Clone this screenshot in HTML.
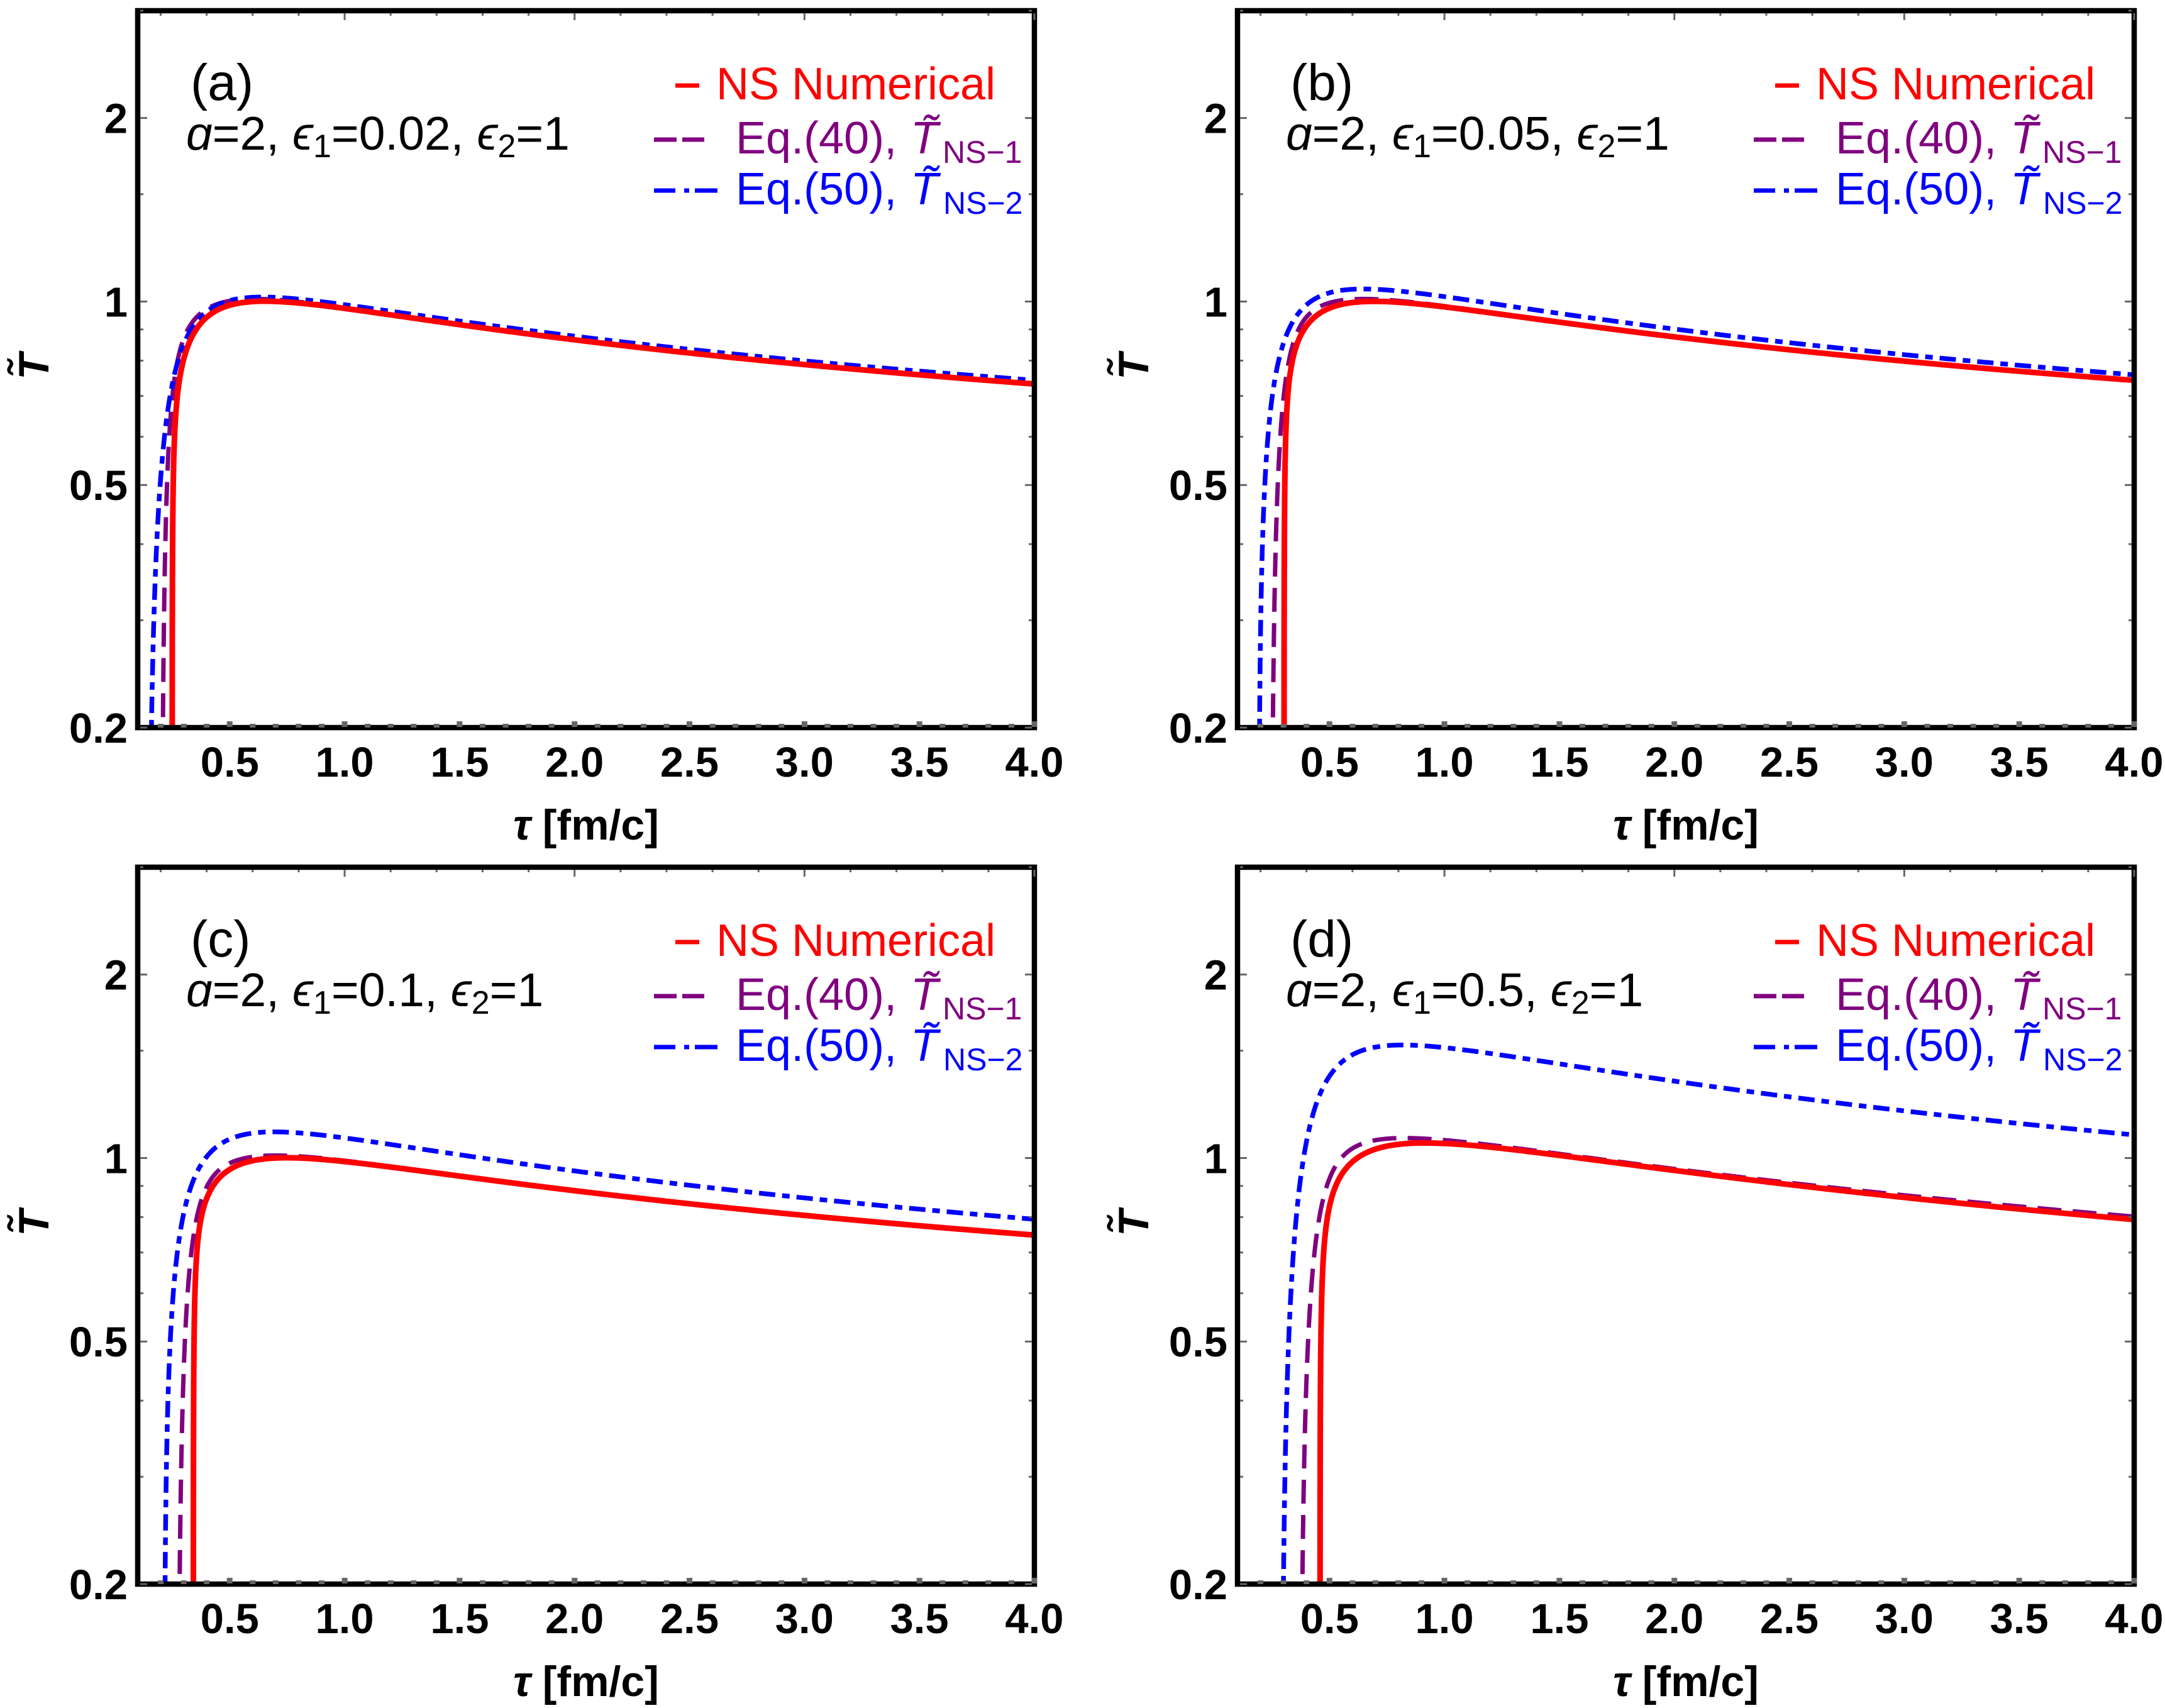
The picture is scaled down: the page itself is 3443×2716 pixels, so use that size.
<!DOCTYPE html>
<html>
<head>
<meta charset="utf-8">
<style>
html,body{margin:0;padding:0;background:#fff;width:3443px;height:2716px;overflow:hidden;}
svg{display:block;}
</style>
</head>
<body>
<svg id="s" width="3443" height="2716" viewBox="0 0 3443 2716" xmlns="http://www.w3.org/2000/svg">
<rect x="0" y="0" width="3443" height="2716" fill="#fff"/>
<defs>
<clipPath id="cp0"><rect x="219" y="17" width="1426" height="1140"/></clipPath>
<clipPath id="cp1"><rect x="1968" y="17" width="1426" height="1140"/></clipPath>
<clipPath id="cp2"><rect x="219" y="1379" width="1426" height="1140"/></clipPath>
<clipPath id="cp3"><rect x="1968" y="1379" width="1426" height="1140"/></clipPath>
</defs>
<g id="plots"></g>
<g id="frames" fill="none" stroke="#000" stroke-width="8.5">
<rect x="219" y="17" width="1426" height="1140"/>
<rect x="1968" y="17" width="1426" height="1140"/>
<rect x="219" y="1379" width="1426" height="1140"/>
<rect x="1968" y="1379" width="1426" height="1140"/>
</g>
<g id="ticks"></g>

<g font-family="'Liberation Sans','DejaVu Sans',sans-serif">

<!-- ================= Panel (a) ================= -->
<g>
<text x="303" y="159" font-size="82">(a)</text>
<text x="296" y="238" font-size="75"><tspan font-style="italic">ɑ</tspan>=2, <tspan font-style="italic">ϵ</tspan><tspan font-size="52" dy="12">1</tspan><tspan dy="-12">=0.02, </tspan><tspan font-style="italic">ϵ</tspan><tspan font-size="52" dy="12">2</tspan><tspan dy="-12">=1</tspan></text>
<line x1="1074" y1="136" x2="1112" y2="136" stroke="#ff0000" stroke-width="7"/>
<text x="1139" y="158" font-size="72" fill="#ff0000">NS Numerical</text>
<line x1="1040" y1="222" x2="1076" y2="222" stroke="#800080" stroke-width="7"/>
<line x1="1085" y1="222" x2="1120" y2="222" stroke="#800080" stroke-width="7"/>
<text x="1170" y="244" font-size="72" fill="#800080">Eq.(40),</text>
<text x="1448" y="244" font-size="72" font-style="italic" fill="#800080">T</text>
<text x="1478" y="234" font-size="72" font-style="italic" text-anchor="middle" fill="#800080">˜</text>
<text x="1499" y="259" font-size="50" fill="#800080">NS−1</text>
<line x1="1040" y1="303" x2="1074" y2="303" stroke="#0000ff" stroke-width="7"/>
<line x1="1088" y1="303" x2="1096" y2="303" stroke="#0000ff" stroke-width="7"/>
<line x1="1105" y1="303" x2="1141" y2="303" stroke="#0000ff" stroke-width="7"/>
<text x="1170" y="325" font-size="72" fill="#0000ff">Eq.(50),</text>
<text x="1448" y="325" font-size="72" font-style="italic" fill="#0000ff">T</text>
<text x="1478" y="315" font-size="72" font-style="italic" text-anchor="middle" fill="#0000ff">˜</text>
<text x="1500" y="340" font-size="50" fill="#0000ff">NS−2</text>
<g font-weight="bold" font-size="67" text-anchor="end">
<text x="203" y="1181">0.2</text>
<text x="203" y="795">0.5</text>
<text x="203" y="503.5">1</text>
<text x="203" y="211.7">2</text>
</g>
<g font-weight="bold" font-size="67" text-anchor="middle">
<text x="365.3" y="1235">0.5</text>
<text x="548.1" y="1235">1.0</text>
<text x="730.9" y="1235">1.5</text>
<text x="913.7" y="1235">2.0</text>
<text x="1096.5" y="1235">2.5</text>
<text x="1279.3" y="1235">3.0</text>
<text x="1462.1" y="1235">3.5</text>
<text x="1645" y="1235">4.0</text>
</g>
<text x="932" y="1335" font-size="68" font-weight="bold" text-anchor="middle"><tspan font-style="italic">τ</tspan> [fm/c]</text>
<g transform="translate(77,583) rotate(-90)">
<text x="0" y="0" font-size="68" font-weight="bold" font-style="italic" text-anchor="middle">T</text>
<text x="-5" y="-17" font-size="68" font-weight="bold" font-style="italic" text-anchor="middle">˜</text>
</g>
</g>

<!-- ================= Panel (b) ================= -->
<g transform="translate(1749,0)">
<text x="303" y="159" font-size="82">(b)</text>
<text x="296" y="238" font-size="75"><tspan font-style="italic">ɑ</tspan>=2, <tspan font-style="italic">ϵ</tspan><tspan font-size="52" dy="12">1</tspan><tspan dy="-12">=0.05, </tspan><tspan font-style="italic">ϵ</tspan><tspan font-size="52" dy="12">2</tspan><tspan dy="-12">=1</tspan></text>
<line x1="1074" y1="136" x2="1112" y2="136" stroke="#ff0000" stroke-width="7"/>
<text x="1139" y="158" font-size="72" fill="#ff0000">NS Numerical</text>
<line x1="1040" y1="222" x2="1076" y2="222" stroke="#800080" stroke-width="7"/>
<line x1="1085" y1="222" x2="1120" y2="222" stroke="#800080" stroke-width="7"/>
<text x="1170" y="244" font-size="72" fill="#800080">Eq.(40),</text>
<text x="1448" y="244" font-size="72" font-style="italic" fill="#800080">T</text>
<text x="1478" y="234" font-size="72" font-style="italic" text-anchor="middle" fill="#800080">˜</text>
<text x="1499" y="259" font-size="50" fill="#800080">NS−1</text>
<line x1="1040" y1="303" x2="1074" y2="303" stroke="#0000ff" stroke-width="7"/>
<line x1="1088" y1="303" x2="1096" y2="303" stroke="#0000ff" stroke-width="7"/>
<line x1="1105" y1="303" x2="1141" y2="303" stroke="#0000ff" stroke-width="7"/>
<text x="1170" y="325" font-size="72" fill="#0000ff">Eq.(50),</text>
<text x="1448" y="325" font-size="72" font-style="italic" fill="#0000ff">T</text>
<text x="1478" y="315" font-size="72" font-style="italic" text-anchor="middle" fill="#0000ff">˜</text>
<text x="1500" y="340" font-size="50" fill="#0000ff">NS−2</text>
<g font-weight="bold" font-size="67" text-anchor="end">
<text x="203" y="1181">0.2</text>
<text x="203" y="795">0.5</text>
<text x="203" y="503.5">1</text>
<text x="203" y="211.7">2</text>
</g>
<g font-weight="bold" font-size="67" text-anchor="middle">
<text x="365.3" y="1235">0.5</text>
<text x="548.1" y="1235">1.0</text>
<text x="730.9" y="1235">1.5</text>
<text x="913.7" y="1235">2.0</text>
<text x="1096.5" y="1235">2.5</text>
<text x="1279.3" y="1235">3.0</text>
<text x="1462.1" y="1235">3.5</text>
<text x="1645" y="1235">4.0</text>
</g>
<text x="932" y="1335" font-size="68" font-weight="bold" text-anchor="middle"><tspan font-style="italic">τ</tspan> [fm/c]</text>
<g transform="translate(77,583) rotate(-90)">
<text x="0" y="0" font-size="68" font-weight="bold" font-style="italic" text-anchor="middle">T</text>
<text x="-5" y="-17" font-size="68" font-weight="bold" font-style="italic" text-anchor="middle">˜</text>
</g>
</g>

<!-- ================= Panel (c) ================= -->
<g transform="translate(0,1362)">
<text x="303" y="159" font-size="82">(c)</text>
<text x="296" y="238" font-size="75"><tspan font-style="italic">ɑ</tspan>=2, <tspan font-style="italic">ϵ</tspan><tspan font-size="52" dy="12">1</tspan><tspan dy="-12">=0.1, </tspan><tspan font-style="italic">ϵ</tspan><tspan font-size="52" dy="12">2</tspan><tspan dy="-12">=1</tspan></text>
<line x1="1074" y1="136" x2="1112" y2="136" stroke="#ff0000" stroke-width="7"/>
<text x="1139" y="158" font-size="72" fill="#ff0000">NS Numerical</text>
<line x1="1040" y1="222" x2="1076" y2="222" stroke="#800080" stroke-width="7"/>
<line x1="1085" y1="222" x2="1120" y2="222" stroke="#800080" stroke-width="7"/>
<text x="1170" y="244" font-size="72" fill="#800080">Eq.(40),</text>
<text x="1448" y="244" font-size="72" font-style="italic" fill="#800080">T</text>
<text x="1478" y="234" font-size="72" font-style="italic" text-anchor="middle" fill="#800080">˜</text>
<text x="1499" y="259" font-size="50" fill="#800080">NS−1</text>
<line x1="1040" y1="303" x2="1074" y2="303" stroke="#0000ff" stroke-width="7"/>
<line x1="1088" y1="303" x2="1096" y2="303" stroke="#0000ff" stroke-width="7"/>
<line x1="1105" y1="303" x2="1141" y2="303" stroke="#0000ff" stroke-width="7"/>
<text x="1170" y="325" font-size="72" fill="#0000ff">Eq.(50),</text>
<text x="1448" y="325" font-size="72" font-style="italic" fill="#0000ff">T</text>
<text x="1478" y="315" font-size="72" font-style="italic" text-anchor="middle" fill="#0000ff">˜</text>
<text x="1500" y="340" font-size="50" fill="#0000ff">NS−2</text>
<g font-weight="bold" font-size="67" text-anchor="end">
<text x="203" y="1181">0.2</text>
<text x="203" y="795">0.5</text>
<text x="203" y="503.5">1</text>
<text x="203" y="211.7">2</text>
</g>
<g font-weight="bold" font-size="67" text-anchor="middle">
<text x="365.3" y="1235">0.5</text>
<text x="548.1" y="1235">1.0</text>
<text x="730.9" y="1235">1.5</text>
<text x="913.7" y="1235">2.0</text>
<text x="1096.5" y="1235">2.5</text>
<text x="1279.3" y="1235">3.0</text>
<text x="1462.1" y="1235">3.5</text>
<text x="1645" y="1235">4.0</text>
</g>
<text x="932" y="1335" font-size="68" font-weight="bold" text-anchor="middle"><tspan font-style="italic">τ</tspan> [fm/c]</text>
<g transform="translate(77,583) rotate(-90)">
<text x="0" y="0" font-size="68" font-weight="bold" font-style="italic" text-anchor="middle">T</text>
<text x="-5" y="-17" font-size="68" font-weight="bold" font-style="italic" text-anchor="middle">˜</text>
</g>
</g>

<!-- ================= Panel (d) ================= -->
<g transform="translate(1749,1362)">
<text x="303" y="159" font-size="82">(d)</text>
<text x="296" y="238" font-size="75"><tspan font-style="italic">ɑ</tspan>=2, <tspan font-style="italic">ϵ</tspan><tspan font-size="52" dy="12">1</tspan><tspan dy="-12">=0.5, </tspan><tspan font-style="italic">ϵ</tspan><tspan font-size="52" dy="12">2</tspan><tspan dy="-12">=1</tspan></text>
<line x1="1074" y1="136" x2="1112" y2="136" stroke="#ff0000" stroke-width="7"/>
<text x="1139" y="158" font-size="72" fill="#ff0000">NS Numerical</text>
<line x1="1040" y1="222" x2="1076" y2="222" stroke="#800080" stroke-width="7"/>
<line x1="1085" y1="222" x2="1120" y2="222" stroke="#800080" stroke-width="7"/>
<text x="1170" y="244" font-size="72" fill="#800080">Eq.(40),</text>
<text x="1448" y="244" font-size="72" font-style="italic" fill="#800080">T</text>
<text x="1478" y="234" font-size="72" font-style="italic" text-anchor="middle" fill="#800080">˜</text>
<text x="1499" y="259" font-size="50" fill="#800080">NS−1</text>
<line x1="1040" y1="303" x2="1074" y2="303" stroke="#0000ff" stroke-width="7"/>
<line x1="1088" y1="303" x2="1096" y2="303" stroke="#0000ff" stroke-width="7"/>
<line x1="1105" y1="303" x2="1141" y2="303" stroke="#0000ff" stroke-width="7"/>
<text x="1170" y="325" font-size="72" fill="#0000ff">Eq.(50),</text>
<text x="1448" y="325" font-size="72" font-style="italic" fill="#0000ff">T</text>
<text x="1478" y="315" font-size="72" font-style="italic" text-anchor="middle" fill="#0000ff">˜</text>
<text x="1500" y="340" font-size="50" fill="#0000ff">NS−2</text>
<g font-weight="bold" font-size="67" text-anchor="end">
<text x="203" y="1181">0.2</text>
<text x="203" y="795">0.5</text>
<text x="203" y="503.5">1</text>
<text x="203" y="211.7">2</text>
</g>
<g font-weight="bold" font-size="67" text-anchor="middle">
<text x="365.3" y="1235">0.5</text>
<text x="548.1" y="1235">1.0</text>
<text x="730.9" y="1235">1.5</text>
<text x="913.7" y="1235">2.0</text>
<text x="1096.5" y="1235">2.5</text>
<text x="1279.3" y="1235">3.0</text>
<text x="1462.1" y="1235">3.5</text>
<text x="1645" y="1235">4.0</text>
</g>
<text x="932" y="1335" font-size="68" font-weight="bold" text-anchor="middle"><tspan font-style="italic">τ</tspan> [fm/c]</text>
<g transform="translate(77,583) rotate(-90)">
<text x="0" y="0" font-size="68" font-weight="bold" font-style="italic" text-anchor="middle">T</text>
<text x="-5" y="-17" font-size="68" font-weight="bold" font-style="italic" text-anchor="middle">˜</text>
</g>
</g>

</g>
</svg>
<script>
(function(){
var NS='http://www.w3.org/2000/svg';
var plots=document.getElementById('plots');
var ticks=document.getElementById('ticks');
function el(tag,attrs,parent){var e=document.createElementNS(NS,tag);for(var k in attrs)e.setAttribute(k,attrs[k]);parent.appendChild(e);return e;}
var PW=1426,PH=1140;
var LY=Math.log10(0.2),LR=Math.log10(15);
var TMIN=0.16;
var RED={col:'#ff0000',sw:9,dash:null};
var PUR={col:'#800080',sw:7,dash:'38 18'};
var BLU={col:'#0000ff',sw:7.5,dash:'26 11 12 11'};
var panels=[
 {L:219,T:17,cv:[
  [PUR,{t0:0.204,Tpk:1.01,tm:0.61,p:1/3,m:0.7,w:0.032}],
  [BLU,{t0:0.148,Tpk:1.02,tm:0.62,p:1/3,m:0.5,w:0.045}],
  [RED,{t0:0.250,Tpk:1.01,tm:0.61,p:1/3,m:0.3,w:0.0136}]]},
 {L:1968,T:17,cv:[
  [PUR,{t0:0.247,Tpk:1.01,tm:0.643,p:1/3,m:0.7,w:0.047}],
  [BLU,{t0:0.192,Tpk:1.05,tm:0.634,p:0.35,m:0.5,w:0.034}],
  [RED,{t0:0.3025,Tpk:1.01,tm:0.643,p:1/3,m:0.3,w:0.0136}]]},
 {L:219,T:1379,cv:[
  [PUR,{t0:0.275,Tpk:1.01,tm:0.695,p:0.35,m:0.7,w:0.051}],
  [BLU,{t0:0.215,Tpk:1.106,tm:0.677,p:0.38,m:0.5,w:0.039}],
  [RED,{t0:0.342,Tpk:1.01,tm:0.695,p:0.35,m:0.3,w:0.0136}]]},
 {L:1968,T:1379,cv:[
  [PUR,{t0:0.374,Tpk:1.08,tm:0.80,p:0.40,m:0.7,w:0.07}],
  [BLU,{t0:0.292,Tpk:1.54,tm:0.77,p:0.45,m:0.66,w:0.0945}],
  [RED,{t0:0.459,Tpk:1.08,tm:0.807,p:0.42,m:0.3,w:0.025}]]}
];
function X(P,t){return P.L+(t-0.1)/3.9*PW;}
function Y(P,v){return P.T+PH-(Math.log10(v)-LY)/LR*PH;}
function val(c,t){
 var d=t-c.t0; if(d<=0) return TMIN;
 var A=c.Tpk*Math.pow(c.tm,c.p)/(1-c.p);
 var k=c.p*Math.pow(c.tm,1-c.p);
 var late=A*(Math.pow(t,-c.p)-k/t); if(late<TMIN) late=TMIN;
 var S=Math.tanh(Math.pow(d/c.w,c.m));
 return Math.max(late*S,TMIN);
}
panels.forEach(function(P,i){
 var g=el('g',{'clip-path':'url(#cp'+i+')'},plots);
 P.cv.forEach(function(pair){
  var st=pair[0],c=pair[1];
  var ts=[c.t0];
  for(var j=0;j<=320;j++){ts.push(c.t0+1e-7*Math.pow(0.3/1e-7,j/320));}
  for(var t=c.t0+0.31;t<4.0;t+=0.01){ts.push(t);}
  ts.push(4.0);ts.push(4.02);
  var d='';
  for(var q=0;q<ts.length;q++){
   var x=X(P,ts[q]),y=Y(P,val(c,ts[q]));
   d+=(q?'L':'M')+x.toFixed(2)+' '+y.toFixed(2);
  }
  var a={d:d,fill:'none',stroke:st.col,'stroke-width':st.sw,'stroke-linejoin':'round'};
  if(st.dash){a['stroke-dasharray']=st.dash;a['stroke-linecap']='butt';}
  el('path',a,g);
 });
 var gc='#666';
 var yMaj=[0.2,0.5,1,2],yMin=[0.3,0.4,0.6,0.7,0.8,0.9,1.5,3];
 yMaj.forEach(function(v){var y=Y(P,v);
  el('line',{x1:P.L+4,y1:y,x2:P.L+15,y2:y,stroke:gc,'stroke-width':3},ticks);
  el('line',{x1:P.L+PW-4,y1:y,x2:P.L+PW-15,y2:y,stroke:gc,'stroke-width':3},ticks);});
 yMin.forEach(function(v){var y=Y(P,v);
  el('line',{x1:P.L+4,y1:y,x2:P.L+9,y2:y,stroke:gc,'stroke-width':3},ticks);
  el('line',{x1:P.L+PW-4,y1:y,x2:P.L+PW-9,y2:y,stroke:gc,'stroke-width':3},ticks);});
 for(var n=2;n<=40;n++){
  var t=n/10,x=X(P,t);
  if(n%5===0){el('rect',{x:x-4.5,y:P.T+PH-10,width:9,height:9,fill:gc},ticks);}
  else if(n<40){el('rect',{x:x-4.5,y:P.T+PH-6,width:9,height:6,fill:gc},ticks);}
  if(n%2===0){
   if(n%10===0){el('line',{x1:x,y1:P.T+4,x2:x,y2:P.T+15,stroke:gc,'stroke-width':3},ticks);}
   else{el('line',{x1:x,y1:P.T+4,x2:x,y2:P.T+8,stroke:gc,'stroke-width':3},ticks);}
  }
 }
});
})();
</script>
</body>
</html>
